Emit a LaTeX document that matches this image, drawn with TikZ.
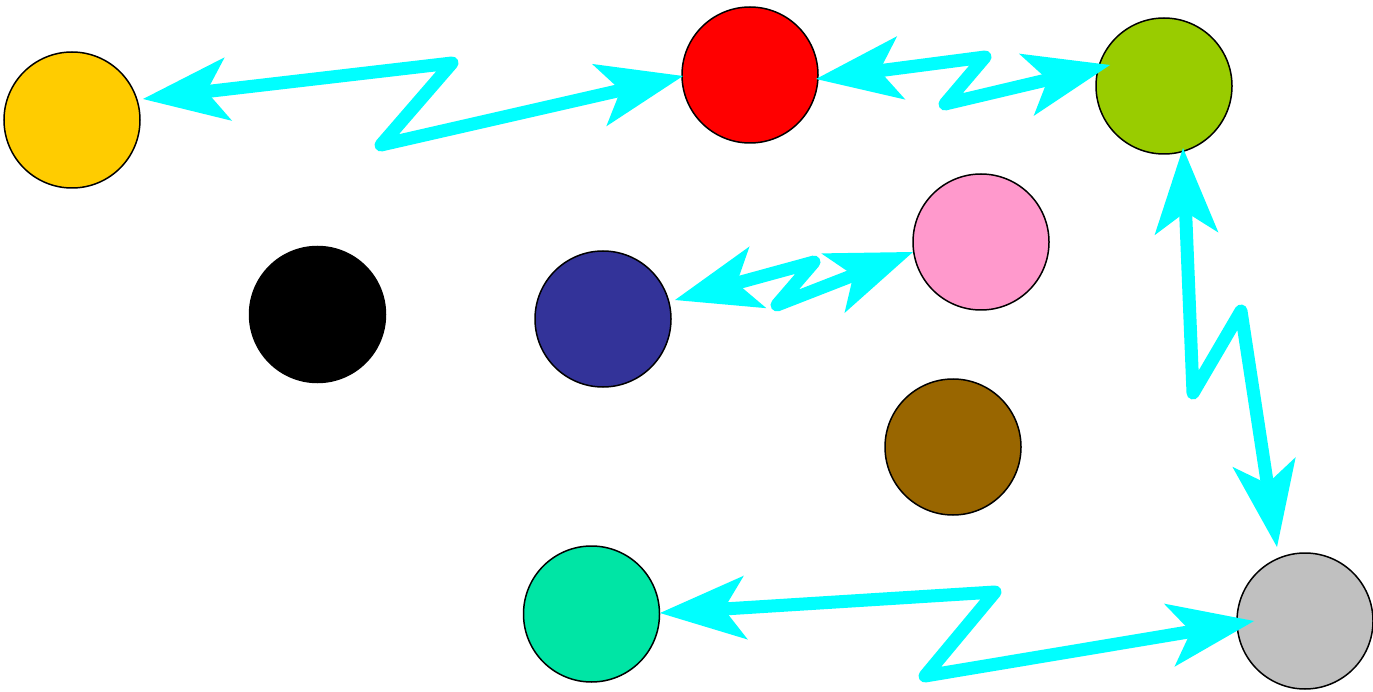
\documentclass[tikz,border=0pt]{standalone}
\usetikzlibrary{arrows.meta,calc}
\definecolor{zapcyan}{HTML}{00FFFF}
\definecolor{cyellow}{HTML}{FFCC00}
\definecolor{cred}{HTML}{FF0000}
\definecolor{cgreen}{HTML}{99CC00}
\definecolor{cpink}{HTML}{FF99CC}
\definecolor{cblue}{HTML}{333399}
\definecolor{cbrown}{HTML}{996600}
\definecolor{cteal}{HTML}{00E5A5}
\definecolor{cgray}{HTML}{C0C0C0}
\begin{document}
\begin{tikzpicture}[x=1pt,y=-1pt,
  ball/.style={circle,draw=black,line width=1.5pt,minimum size=136pt,inner sep=0pt},
  zap/.style={draw=zapcyan,line width=13pt,line cap=round,line join=round,
    {Stealth[length=86pt,width=64pt,inset=22pt,line width=0pt]}-{Stealth[length=86pt,width=64pt,inset=22pt,line width=0pt]}}]
\useasboundingbox (0,0) rectangle (1373,692);
\node[ball,fill=cyellow] (yellow) at (72,120) {};
\node[ball,fill=cred] (red) at (750,75) {};
\node[ball,fill=cgreen] (green) at (1164,86) {};
\node[ball,fill=cpink] (pink) at (981,242) {};
\node[ball,fill=cblue] (blue) at (603,319) {};
\node[ball,fill=black] (black) at (317.5,314.5) {};
\node[ball,fill=cbrown] (brown) at (953,447) {};
\node[ball,fill=cteal] (teal) at (591.5,614) {};
\node[ball,fill=cgray] (gray) at (1305,621) {};

\draw[zap] ($(yellow)+(71,-21)$) -- (452,63) -- (381,145) -- ($(red)+(-67,1)$);
\draw[zap] ($(red)+(66,4)$) -- (985,57) -- (945,104) -- ($(green)+(-54,-21)$);
\draw[zap] ($(blue)+(72,-19)$) -- (814,262) -- (777,305) -- ($(pink)+(-68,10)$);
\draw[zap] ($(green)+(19,62)$) -- (1193,393) -- (1241,311) -- ($(gray)+(-28,-74)$);
\draw[zap] ($(teal)+(68.5,-1)$) -- (995,592) -- (925,676) -- ($(gray)+(-51,0)$);
\end{tikzpicture}
\end{document}
